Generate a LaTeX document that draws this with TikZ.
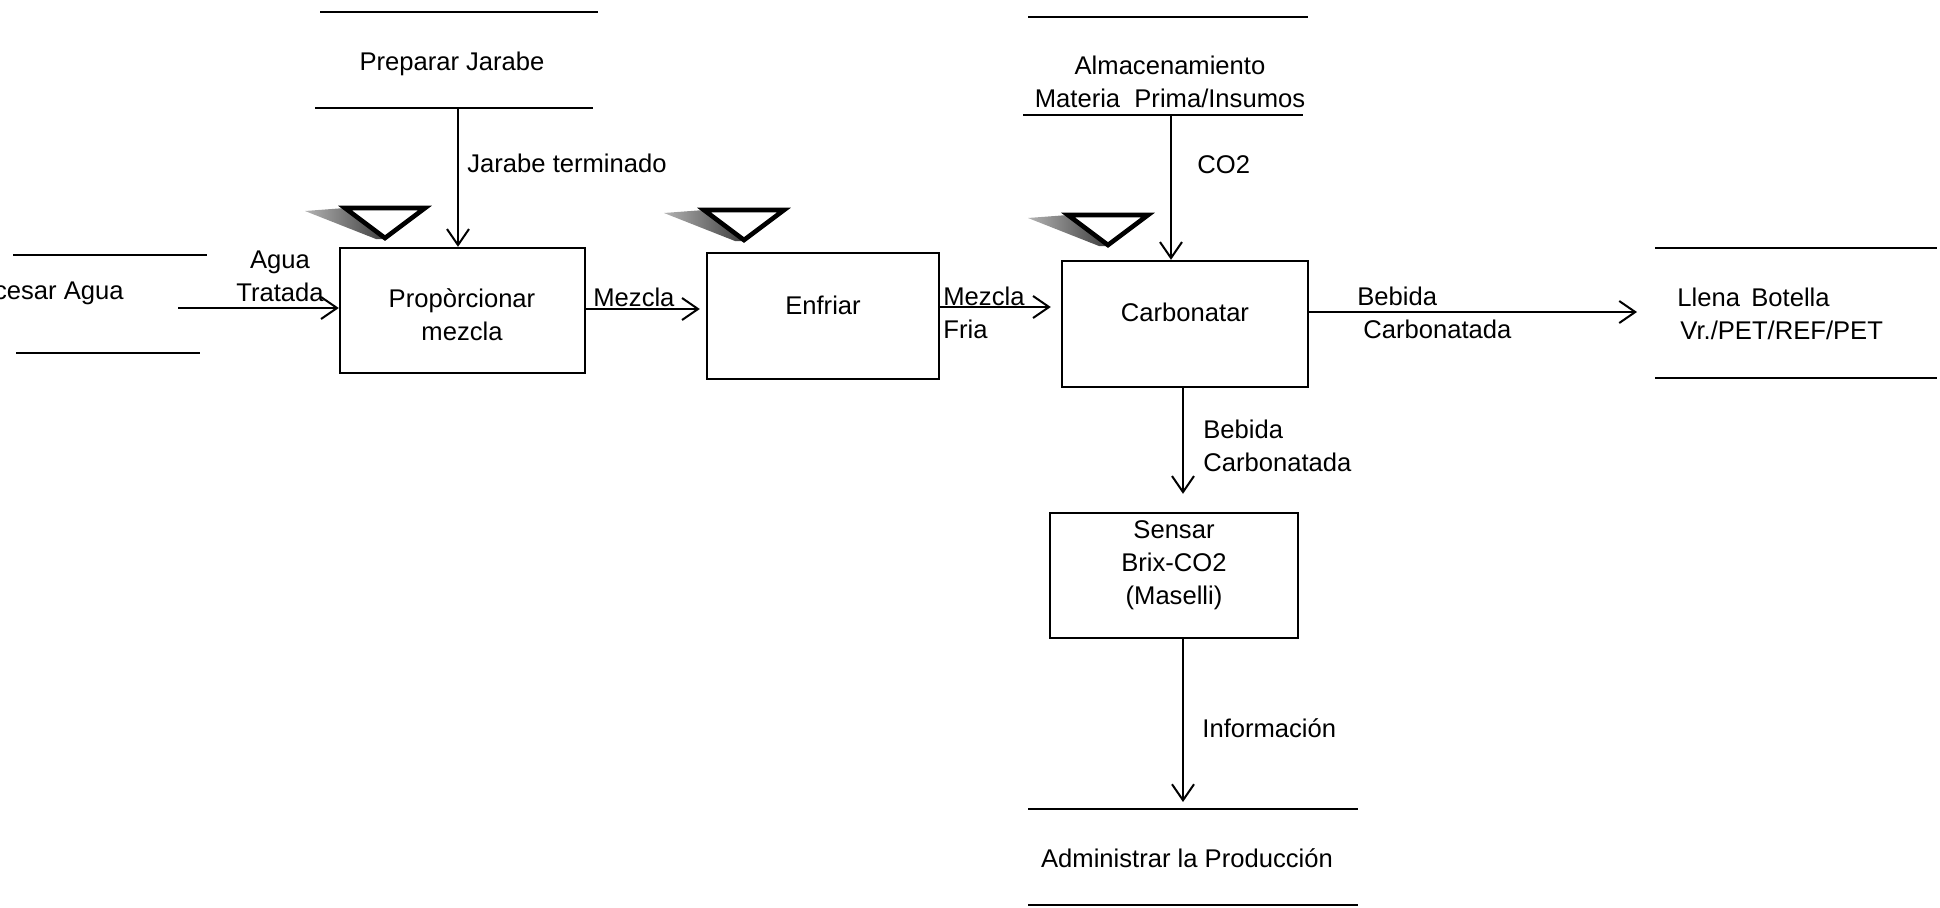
\documentclass[tikz,border=0pt]{standalone}
\usepackage{fontspec}
\setmainfont{Liberation Sans}
\usetikzlibrary{arrows.meta}
\begin{document}
\begin{tikzpicture}[x=0.5pt,y=-0.5pt,
  every node/.style={font=\fontsize{12.8}{16.5}\selectfont, inner sep=0pt},
  storeline/.style={line width=1.3pt},
  procbox/.style={draw, line width=1.2pt, inner sep=0pt},
  arr/.style={line width=1pt, -{Straight Barb[length=8pt,width=11pt]}},
  trimark/.style={draw, line width=2.3pt, line join=miter},
  trishade/.style={left color=black!30, right color=black!75},
  tank/.pic={
    \shade[trishade] (-80,3) -- (-40,0) -- (-1,31) -- (-9,31) -- cycle;
    \draw[trimark] (-40,0) -- (40,0) -- (0,30) -- cycle;
  }
]
\useasboundingbox (0,0) rectangle (1940,907);

% ---- stores (open rectangles) ----
\draw[storeline] (13,255) -- (207,255);
\draw[storeline] (16,353) -- (200,353);
\node[anchor=east] (procagua) at (124,293) {Procesar Agua};

\draw[storeline] (320,12) -- (598,12);
\draw[storeline] (315,108) -- (593,108);
\node (prepjar) at (452,64) {Preparar Jarabe};
\coordinate (pjb) at (458,108);

\draw[storeline] (1028,17) -- (1308,17);
\draw[storeline] (1023,115) -- (1303,115);
\node[align=center] (almac) at (1170,82) {Almacenamiento\\Materia\ \ Prima/Insumos};
\coordinate (almb) at (1171,115);

\draw[storeline] (1655,248) -- (1937,248);
\draw[storeline] (1655,378) -- (1937,378);
\node[anchor=west, align=left] (llena) at (1677,314) {Llena \,Botella\\\hspace*{1.5pt}Vr./PET/REF/PET};
\coordinate (llin) at (1637,312);

\draw[storeline] (1028,809) -- (1358,809);
\draw[storeline] (1028,905) -- (1358,905);
\node (admin) at (1187,858) {Administrar la Producción};
\coordinate (admtop) at (1183,809);

% ---- process boxes ----
\node[procbox, minimum width=122.5pt, minimum height=62.5pt] (pbox) at (462.5,310.5) {};
\node[align=center] (ptext) at (462,315) {Propòrcionar\\mezcla};

\node[procbox, minimum width=116pt, minimum height=63pt] (ebox) at (823,316) {};
\node (etext) at (823,305) {Enfriar};

\node[procbox, minimum width=123pt, minimum height=63pt] (cbox) at (1185,324) {};
\node (ctext) at (1185,312) {Carbonatar};

\node[procbox, minimum width=124pt, minimum height=62.5pt] (sbox) at (1174,575.5) {};
\node[align=center] (stext) at (1174,565) {Sensar\\Brix-CO2\\(Maselli)};

% ---- triangle marks ----
\pic at (385,208) {tank};
\pic at (744,210) {tank};
\pic at (1108,215) {tank};

% ---- connectors ----
\coordinate (a0) at (178,308);
\draw[arr] (a0) -- (a0 -| pbox.west);
\node[align=center] (lagua) at (280,276) {Agua\\Tratada};

\draw[arr] (pjb) -- (pjb |- pbox.north);
\node[anchor=west] (ljar) at (467,163) {Jarabe terminado};

\draw[arr, shorten >=3pt] (pbox.east |- 0,309) -- (ebox.west |- 0,309);
\node[anchor=west] (lmez) at (593,297) {Mezcla};

\draw[arr, shorten >=5pt] (ebox.east |- 0,307) -- (cbox.west |- 0,307);
\node[anchor=west, align=left] (lmezf) at (943,313) {Mezcla\\Fria};

\draw[arr] (almb) -- (almb |- cbox.north);
\node[anchor=west] (lco2) at (1197,165) {CO2};

\draw[arr] (cbox.east |- 0,312) -- (llin);
\node[anchor=west, align=left] (lbeb1) at (1357,313) {Bebida\\\hspace*{3pt}Carbonatada};

\draw[arr, shorten >=9pt] (cbox.south -| 1183,0) -- (sbox.north -| 1183,0);
\node[anchor=west, align=left] (lbeb2) at (1203,446) {Bebida\\Carbonatada};

\draw[arr, shorten >=3.5pt] (sbox.south -| 1183,0) -- (admtop);
\node[anchor=west] (linfo) at (1202,728) {Información};
\end{tikzpicture}
\end{document}
